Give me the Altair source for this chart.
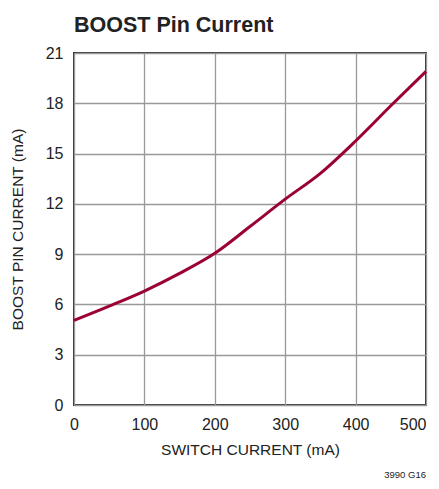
import altair as alt
import pandas as pd

switch_ma = [0, 50, 100, 150, 200, 250, 300, 350, 400, 450, 500]
boost_ma = [5.05, 5.9, 6.8, 7.85, 9.05, 10.65, 12.28, 13.82, 15.75, 17.85, 19.9]
x_ticks = [0, 100, 200, 300, 400, 500]
y_ticks = [0, 3, 6, 9, 12, 15, 18, 21]

df = pd.DataFrame({"x": switch_ma, "y": boost_ma})

FONT = "Liberation Sans"

line = alt.Chart(df).mark_line(
    color="#9b0036", strokeWidth=3, interpolate="monotone"
).encode(
    x=alt.X("x:Q", scale=alt.Scale(domain=[0, 500], nice=False),
            axis=alt.Axis(values=x_ticks, title="SWITCH CURRENT (mA)",
                          grid=True, ticks=False, domain=False,
                          labelFlush=False, labelOverlap=False,
                          labelAlign=alt.ExprRef(
                              "datum.value >= 500 ? 'right' : 'center'"),
                          labelPadding=11, titlePadding=10)),
    y=alt.Y("y:Q", scale=alt.Scale(domain=[0, 21], nice=False),
            axis=alt.Axis(values=y_ticks, title="BOOST PIN CURRENT (mA)",
                          grid=True, ticks=False, domain=False,
                          labelFlush=False, labelOverlap=False,
                          labelPadding=11, titlePadding=20)),
)

note = alt.Chart(pd.DataFrame({"t": ["3990 G16"]})).mark_text(
    align="right", baseline="bottom", font=FONT, fontSize=9.5, color="#222"
).encode(x=alt.value(352), y=alt.value(427), text="t:N")

chart = alt.layer(line, note).properties(
    width=352, height=352,
    title=alt.TitleParams("BOOST Pin Current", anchor="start", frame="group",
                          font=FONT, fontSize=21.5, fontWeight="bold",
                          color="#222", offset=9),
    autosize=alt.AutoSizeParams(type="none"),
    padding={"left": 66, "top": 45, "right": 5, "bottom": 76},
).configure_view(
    stroke="#333", strokeWidth=2
).configure_axis(
    labelFont=FONT, titleFont=FONT, labelFontSize=16, titleFontSize=15.5,
    labelColor="#222", titleColor="#222", titleFontWeight="normal",
    gridColor="#999", gridWidth=1.3, gridOpacity=1,
)

chart.save("out.html", embed_options={"renderer": "svg", "actions": False})
